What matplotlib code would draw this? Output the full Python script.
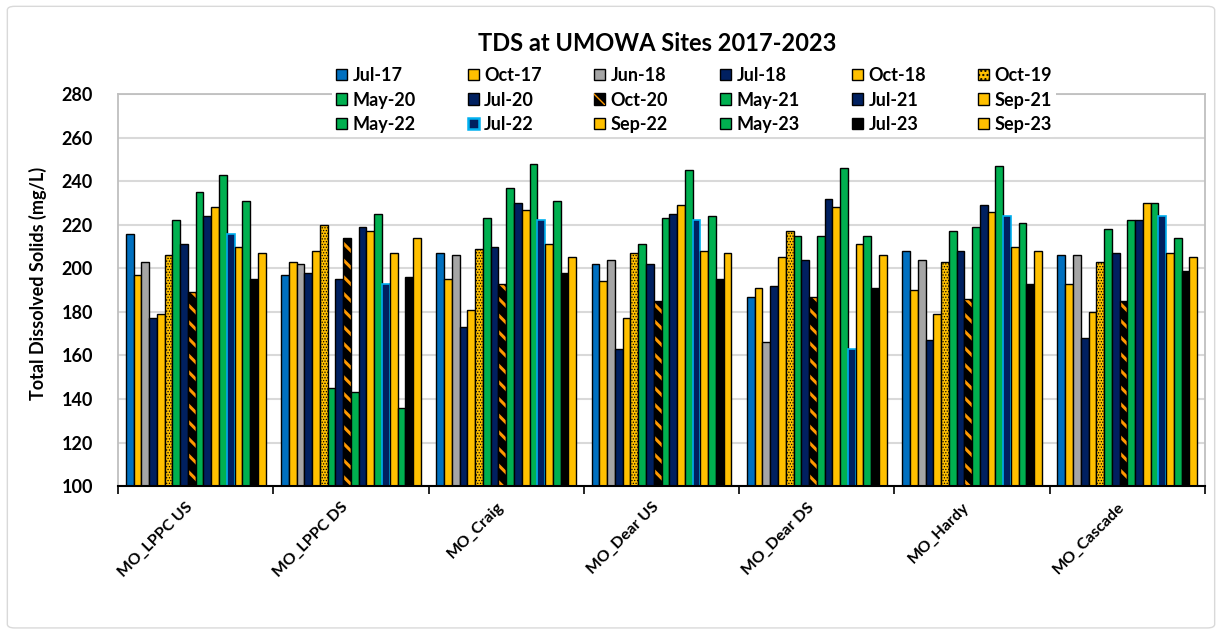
import matplotlib
matplotlib.use('Agg')
import matplotlib.pyplot as plt
import matplotlib.patches as mpatches
import matplotlib.transforms as mtransforms
from matplotlib.patches import FancyBboxPatch
import numpy as np

plt.rcParams['font.family'] = ['Lato', 'DejaVu Sans']

sites = ['MO_LPPC US', 'MO_LPPC DS', 'MO_Craig', 'MO_Dear US', 'MO_Dear DS', 'MO_Hardy', 'MO_Cascade']
dates = ['Jul-17', 'Oct-17', 'Jun-18', 'Jul-18', 'Oct-18', 'Oct-19',
         'May-20', 'Jul-20', 'Oct-20', 'May-21', 'Jul-21', 'Sep-21',
         'May-22', 'Jul-22', 'Sep-22', 'May-23', 'Jul-23', 'Sep-23']

# TDS (mg/L) per site, one value per sampling date above
lppc_us = [216, 197, 203, 177, 179, 206, 222, 211, 189, 235, 224, 228, 243, 216, 210, 231, 195, 207]
lppc_ds = [197, 203, 202, 198, 208, 220, 145, 195, 214, 143, 219, 217, 225, 193, 207, 136, 196, 214]
craig = [207, 195, 206, 173, 181, 209, 223, 210, 193, 237, 230, 227, 248, 222, 211, 231, 198, 205]
dear_us = [202, 194, 204, 163, 177, 207, 211, 202, 185, 223, 225, 229, 245, 222, 208, 224, 195, 207]
dear_ds = [187, 191, 166, 192, 205, 217, 215, 204, 187, 215, 232, 228, 246, 163, 211, 215, 191, 206]
hardy = [208, 190, 204, 167, 179, 203, 217, 208, 186, 219, 229, 226, 247, 224, 210, 221, 193, 208]
cascade = [206, 193, 206, 168, 180, 203, 218, 207, 185, 222, 222, 230, 230, 224, 207, 214, 199, 205]

colors = ['#0070C0', '#FFC000', '#A5A5A5', '#002060', '#FFC000', '#FFC000',
          '#00B050', '#002060', '#000000', '#00B050', '#002060', '#FFC000',
          '#00B050', '#002060', '#FFC000', '#00B050', '#000000', '#FFC000']

tds = np.array([lppc_us, lppc_ds, craig, dear_us, dear_ds, hardy, cascade])

fig = plt.figure(figsize=(12.22, 6.33), dpi=100)
ax = fig.add_axes([0.0966, 0.232, 0.8895, 0.6193])

idx = np.arange(len(sites))
w = 0.9 / len(dates)
handles = []
for j, d in enumerate(dates):
    x = idx + (j - (len(dates) - 1) / 2) * w
    vals = tds[:, j]
    if d == 'Oct-19':
        with plt.rc_context({'hatch.linewidth': 0.6}):
            ax.bar(x, vals, w, color=colors[j], edgecolor='black', lw=1.0, hatch='......', zorder=2)
            h = mpatches.Patch(facecolor=colors[j], edgecolor='black', hatch='....', lw=1.0)
    elif d == 'Oct-20':
        with plt.rc_context({'hatch.linewidth': 2.2}):
            ax.bar(x, vals, w, color='black', edgecolor='none', zorder=2)
            ax.bar(x, vals, w, fill=False, edgecolor='#FF9900', lw=0, hatch='\\\\', zorder=2)
            ax.bar(x, vals, w, fill=False, edgecolor='black', lw=1.0, zorder=2)
            h = (mpatches.Patch(facecolor='black', edgecolor='black', lw=1.0),
                 mpatches.Patch(fill=False, edgecolor='#FF9900', lw=0, hatch='\\\\'))
    elif d == 'Jul-22':
        ax.bar(x, vals, w, color=colors[j], edgecolor='#00B0F0', lw=1.2, zorder=2)
        h = mpatches.Patch(facecolor=colors[j], edgecolor='#00B0F0', lw=1.8)
    else:
        ax.bar(x, vals, w, color=colors[j], edgecolor='black', lw=1.0, zorder=2)
        h = mpatches.Patch(facecolor=colors[j], edgecolor='black', lw=1.0)
    handles.append(h)

ax.set_xlim(-0.5, len(sites) - 0.5)
ax.set_ylim(100, 280)
ax.set_yticks(np.arange(100, 281, 20))
ax.yaxis.grid(True, color='#D9D9D9', lw=1.5)
ax.set_axisbelow(True)

ax.set_xticks(idx)
ax.set_xticklabels(sites, rotation=45, ha='right', va='bottom', rotation_mode='anchor',
                   fontsize=11.5, fontweight='bold')
shift = mtransforms.ScaledTranslation(0.07, 0, fig.dpi_scale_trans)
for lab in ax.get_xticklabels():
    lab.set_transform(lab.get_transform() + shift)
ax.set_xticks(np.arange(-0.5, len(sites), 1), minor=True)
ax.tick_params(axis='x', which='major', length=0, pad=17)
ax.tick_params(axis='x', which='minor', length=6, color='black', width=1.2)
ax.tick_params(axis='y', length=0, pad=18)
for lab in ax.get_yticklabels():
    lab.set_fontweight('bold')
    lab.set_fontsize(13)

for s in ['top', 'right', 'left']:
    ax.spines[s].set_color('#BFBFBF')
    ax.spines[s].set_linewidth(1.3)
ax.spines['bottom'].set_color('black')
ax.spines['bottom'].set_linewidth(1.5)

fig.text(0.031, 0.552, 'Total Dissolved Solids (mg/L)', rotation=90, ha='center', va='center',
         fontsize=13, fontweight='bold')
fig.text(0.538, 0.932, 'TDS at UMOWA Sites 2017-2023', ha='center', va='center',
         fontsize=17, fontweight='bold')

# legend reads row by row, matplotlib fills column by column
ncol, nrow = 6, 3
order = [r * ncol + c for c in range(ncol) for r in range(nrow)]
leg = fig.legend([handles[i] for i in order], [dates[i] for i in order], ncol=ncol,
                 loc='center', bbox_to_anchor=(0.568, 0.842), frameon=True, facecolor='white',
                 edgecolor='none', framealpha=1, prop={'size': 13, 'weight': 'bold'},
                 columnspacing=2.9, handlelength=0.6, handleheight=0.6, handletextpad=0.3,
                 labelspacing=0.42, borderpad=0.2)

fig.patches.append(FancyBboxPatch((0.006, 0.008), 0.988, 0.982,
                                  boxstyle='round,pad=0,rounding_size=0.006',
                                  transform=fig.transFigure, fill=False, ec='#D9D9D9', lw=1))

fig.savefig('out.png', dpi=100)
